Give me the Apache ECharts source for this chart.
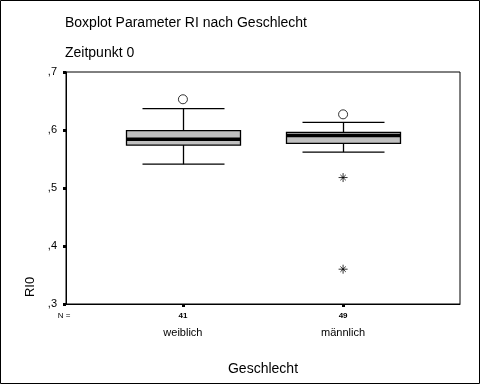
<!DOCTYPE html>
<html>
<head>
<meta charset="utf-8">
<script src="https://cdn.jsdelivr.net/npm/echarts@6/dist/echarts.min.js"></script>
<style>html,body{margin:0;padding:0;background:#fff}#c{width:481px;height:385px}</style>
</head>
<body>
<div id="c"></div>
<script>
// ---- data ----
const categories = ['weiblich', 'männlich'];
const counts = [41, 49];
const xPositions = [1, 2];
const lowerWhisker = [0.541, 0.562];
const q1 = [0.574, 0.577];
const median = [0.584, 0.5905];
const q3 = [0.599, 0.596];
const upperWhisker = [0.637, 0.613];
const outliers = [[1, 0.653], [2, 0.627]];
const extremes = [[2, 0.518], [2, 0.360]];
const yMin = 0.3, yMax = 0.7, yStep = 0.1;

const FONT = '"Liberation Sans", Arial, sans-serif';
const boxData = xPositions.map((x, i) => [x, lowerWhisker[i], q1[i], median[i], q3[i], upperWhisker[i]]);

const chart = echarts.init(document.getElementById('c'), null, {renderer: 'canvas'});
chart.setOption({
  animation: false,
  backgroundColor: '#fff',
  textStyle: {fontFamily: FONT, color: '#000'},
  title: [
    {text: 'Boxplot Parameter RI nach Geschlecht', left: 65, top: 16, padding: 0,
     textStyle: {fontFamily: FONT, fontSize: 14, fontWeight: 'normal', color: '#000'}},
    {text: 'Zeitpunkt 0', left: 65, top: 46, padding: 0,
     textStyle: {fontFamily: FONT, fontSize: 14, fontWeight: 'normal', color: '#000'}}
  ],
  grid: {left: 66, top: 72, width: 394, height: 232, show: true, borderColor: '#000', borderWidth: 1, backgroundColor: 'transparent'},
  xAxis: {
    type: 'value', min: 0.27, max: 2.73,
    name: 'Geschlecht', nameLocation: 'middle', nameGap: 58,
    nameTextStyle: {fontFamily: FONT, fontSize: 14, color: '#000'},
    axisLine: {show: true, lineStyle: {color: '#000', width: 1}},
    axisTick: {show: true, customValues: xPositions, length: 3, lineStyle: {color: '#000', width: 3}},
    splitLine: {show: false},
    axisLabel: {
      customValues: [0.27].concat(xPositions), margin: 6, color: '#000',
      formatter: function (v) {
        const i = xPositions.indexOf(Math.round(v * 100) / 100);
        if (i < 0) return '{n|N =}\n{c| }';
        return '{b|' + counts[i] + '}\n{c|' + categories[i] + '}';
      },
      rich: {
        n: {fontFamily: FONT, fontSize: 8, lineHeight: 11, color: '#000', padding: [0, 4, 0, 0]},
        b: {fontFamily: FONT, fontSize: 8, fontWeight: 'bold', lineHeight: 11, color: '#000'},
        c: {fontFamily: FONT, fontSize: 11, lineHeight: 24, color: '#000'}
      }
    }
  },
  yAxis: {
    type: 'value', min: yMin, max: yMax, interval: yStep,
    axisLine: {show: true, lineStyle: {color: '#000', width: 1}},
    axisTick: {show: true, length: 3, lineStyle: {color: '#000', width: 3}},
    splitLine: {show: false},
    axisLabel: {margin: 9, fontFamily: FONT, fontSize: 11, color: '#000',
      formatter: v => ',' + Math.round(v * 10)}
  },
  graphic: [
    {type: 'rect', shape: {x: 0.5, y: 0.5, width: 479, height: 383}, style: {fill: 'none', stroke: '#000', lineWidth: 1}, silent: true},
    {type: 'text', x: 30, y: 287, rotation: Math.PI / 2, style: {text: 'RI0', fontFamily: FONT, fontSize: 13, fill: '#000', align: 'center', verticalAlign: 'middle'}}
  ],
  series: [
    {
      type: 'custom',
      data: boxData,
      encode: {x: 0, y: [1, 2, 3, 4, 5]},
      renderItem: function (params, api) {
        const x = api.value(0);
        const pLW = api.coord([x, api.value(1)]);
        const pQ1 = api.coord([x, api.value(2)]);
        const pMed = api.coord([x, api.value(3)]);
        const pQ3 = api.coord([x, api.value(4)]);
        const pUW = api.coord([x, api.value(5)]);
        const cx = Math.round(pLW[0]) + 0.5;
        const hb = 57, hc = 41;
        const ln = {stroke: '#000', lineWidth: 1.3};
        return {
          type: 'group',
          children: [
            {type: 'line', shape: {x1: cx, y1: pQ3[1], x2: cx, y2: pUW[1]}, style: ln},
            {type: 'line', shape: {x1: cx, y1: pQ1[1], x2: cx, y2: pLW[1]}, style: ln},
            {type: 'line', shape: {x1: cx - hc, y1: pUW[1], x2: cx + hc, y2: pUW[1]}, style: ln},
            {type: 'line', shape: {x1: cx - hc, y1: pLW[1], x2: cx + hc, y2: pLW[1]}, style: ln},
            {type: 'rect', shape: {x: cx - hb, y: pQ3[1], width: 2 * hb, height: pQ1[1] - pQ3[1]},
             style: {fill: '#c0c0c0', stroke: '#000', lineWidth: 1.3}},
            {type: 'line', shape: {x1: cx - hb, y1: pMed[1], x2: cx + hb, y2: pMed[1]}, style: {stroke: '#000', lineWidth: 3.5}}
          ]
        };
      }
    },
    {
      type: 'scatter', data: outliers, symbol: 'circle', symbolSize: 9,
      itemStyle: {color: '#fff', borderColor: '#000', borderWidth: 1}
    },
    {
      type: 'scatter', data: extremes, symbolSize: 9,
      symbol: 'path://M0,5L10,5M5,0L5,10M2,2L8,8M8,2L2,8',
      itemStyle: {color: 'none', borderColor: '#000', borderWidth: 1}
    }
  ]
});
</script>
</body>
</html>
